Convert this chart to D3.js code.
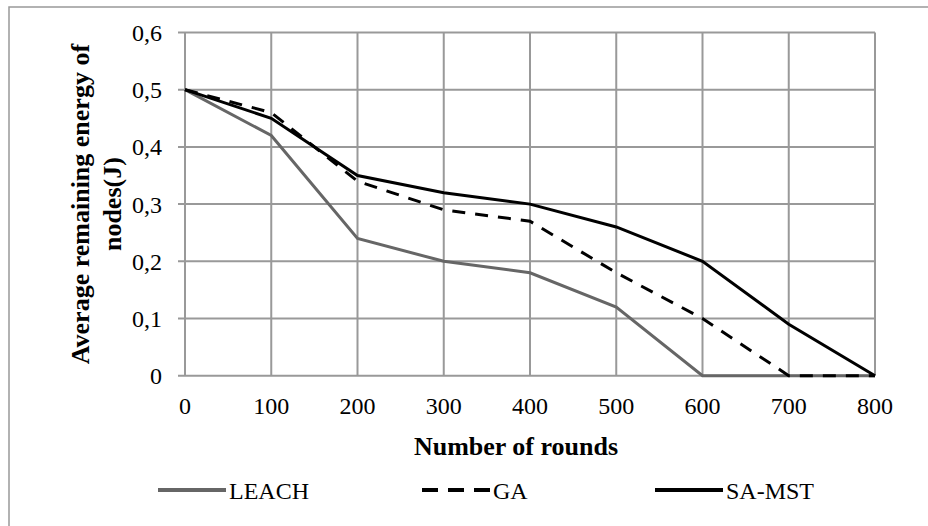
<!DOCTYPE html>
<html>
<head>
<meta charset="utf-8">
<script src="https://cdn.jsdelivr.net/npm/d3@7"></script>
<style>
  body { margin: 0; background: #fff; }
  svg text { font-family: "Liberation Serif", "Times New Roman", "DejaVu Serif", serif; }
</style>
</head>
<body>
<div id="chart"></div>
<script>
// chart data
const rounds = [0, 100, 200, 300, 400, 500, 600, 700, 800];
const leach = [0.5, 0.42, 0.24, 0.2, 0.18, 0.12, 0, 0, 0];
const ga = [0.5, 0.46, 0.34, 0.29, 0.27, 0.18, 0.1, 0, 0];
const saMst = [0.5, 0.45, 0.35, 0.32, 0.30, 0.26, 0.20, 0.09, 0];
const yTicks = [0, 0.1, 0.2, 0.3, 0.4, 0.5, 0.6];
const seriesNames = ["LEACH", "GA", "SA-MST"];

const width = 928;
const height = 526;
const margin = { top: 32.5, right: 53, bottom: 150.3, left: 185 };
const serif = "'Liberation Serif', 'Times New Roman', serif";

const svg = d3.select("#chart")
    .append("svg")
    .attr("width", width)
    .attr("height", height)
    .attr("font-family", serif);

// outer frame (only left/top visible in the picture)
svg.append("rect")
    .attr("x", 9).attr("y", 7)
    .attr("width", width + 20).attr("height", height + 20)
    .attr("fill", "none")
    .attr("stroke", "#999")
    .attr("stroke-width", 1.5);

const x = d3.scaleLinear()
    .domain([0, 800])
    .range([margin.left, width - margin.right]);

const y = d3.scaleLinear()
    .domain([0, 0.6])
    .range([height - margin.bottom, margin.top]);

// grid
svg.append("g")
    .selectAll("line")
    .data(yTicks)
    .enter()
    .append("line")
    .attr("x1", margin.left - 7)
    .attr("x2", x(800))
    .attr("y1", d => y(d))
    .attr("y2", d => y(d))
    .attr("stroke", "#999")
    .attr("stroke-width", 2);

svg.append("g")
    .selectAll("line")
    .data(rounds)
    .enter()
    .append("line")
    .attr("x1", d => x(d))
    .attr("x2", d => x(d))
    .attr("y1", y(0))
    .attr("y2", y(0.6))
    .attr("stroke", "#999")
    .attr("stroke-width", 2);

// y tick labels
svg.append("g")
    .selectAll("text")
    .data(yTicks)
    .enter()
    .append("text")
    .attr("x", 162)
    .attr("y", d => y(d))
    .attr("dy", "0.35em")
    .attr("text-anchor", "end")
    .attr("font-size", 24)
    .text(d => d === 0 ? "0" : d3.format(".1f")(d).replace(".", ","));

// x tick labels
svg.append("g")
    .selectAll("text")
    .data(rounds)
    .enter()
    .append("text")
    .attr("x", d => x(d))
    .attr("y", 414)
    .attr("text-anchor", "middle")
    .attr("font-size", 24)
    .text(d => d);

// axis titles
svg.append("text")
    .attr("x", 516)
    .attr("y", 455)
    .attr("text-anchor", "middle")
    .attr("font-size", 26)
    .attr("font-weight", "bold")
    .text("Number of rounds");

const yTitle = svg.append("text")
    .attr("transform", `translate(0,${(y(0) + y(0.6)) / 2}) rotate(-90)`)
    .attr("text-anchor", "middle")
    .attr("font-size", 26)
    .attr("font-weight", "bold");
yTitle.append("tspan").attr("x", 0).attr("y", 89).text("Average remaining energy of");
yTitle.append("tspan").attr("x", 0).attr("y", 121).text("nodes(J)");

// series
const series = [
    { name: seriesNames[0], values: leach, color: "#666", dash: null },
    { name: seriesNames[1], values: ga, color: "#000", dash: "13,10" },
    { name: seriesNames[2], values: saMst, color: "#000", dash: null }
];

const line = d3.line()
    .x((d, i) => x(rounds[i]))
    .y(d => y(d));

svg.append("g")
    .selectAll("path")
    .data(series)
    .enter()
    .append("path")
    .attr("d", d => line(d.values))
    .attr("fill", "none")
    .attr("stroke", d => d.color)
    .attr("stroke-width", 3)
    .attr("stroke-dasharray", d => d.dash);

// legend
const legendX = [158, 422, 655];
const legend = svg.append("g")
    .selectAll("g")
    .data(series)
    .enter()
    .append("g")
    .attr("transform", (d, i) => `translate(${legendX[i]},490)`);

legend.append("line")
    .attr("x1", 0).attr("x2", 68)
    .attr("y1", 0).attr("y2", 0)
    .attr("stroke", d => d.color)
    .attr("stroke-width", 4)
    .attr("stroke-dasharray", d => d.dash ? "16,10" : null);

legend.append("text")
    .attr("x", 71)
    .attr("y", 9)
    .attr("font-size", 24)
    .text(d => d.name);
</script>
</body>
</html>
